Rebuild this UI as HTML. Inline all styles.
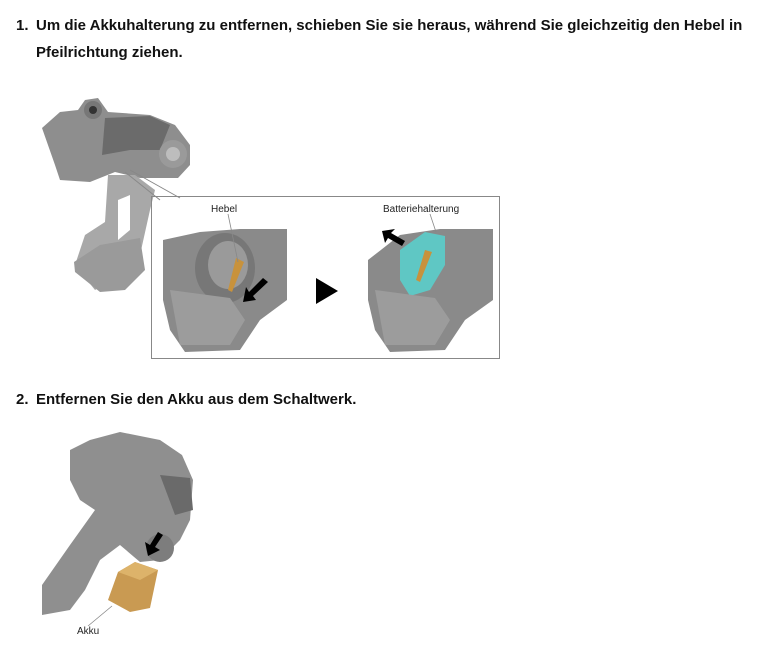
<!DOCTYPE html>
<html><head><meta charset="utf-8"><style>
html,body{margin:0;padding:0;background:#fff;width:764px;height:651px;overflow:hidden;position:relative;font-family:"Liberation Sans",Arial,sans-serif}
.t{position:absolute;font-weight:bold;font-size:15px;color:#111;line-height:27px}
.s{position:absolute;font-size:10px;color:#222}
svg{position:absolute;left:0;top:0}
</style></head><body>
<div class="t" style="left:16px;top:12px">1.</div>
<div class="t" style="left:36px;top:12px;width:728px">Um die Akkuhalterung zu entfernen, schieben Sie sie heraus, während Sie gleichzeitig den Hebel in<br>Pfeilrichtung ziehen.</div>
<div class="t" style="left:16px;top:386px">2.</div>
<div class="t" style="left:36px;top:386px">Entfernen Sie den Akku aus dem Schaltwerk.</div>
<div class="s" style="left:211px;top:204px">Hebel</div>
<div class="s" style="left:383px;top:204px">Batteriehalterung</div>
<div class="s" style="left:77px;top:626px">Akku</div>
<svg width="764" height="651" viewBox="0 0 764 651">
<path d="M42,128 L60,112 L78,110 L85,100 L98,98 L108,112 L150,115 L175,125 L190,145 L190,165 L178,178 L140,178 L115,172 L100,178 L90,182 L60,180 L55,165 Z" fill="#8e8e8e"/>
<path d="M105,118 L150,116 L170,125 L160,150 L130,150 L102,155 Z" fill="#6b6b6b"/>
<circle cx="93" cy="110" r="9" fill="#777"/><circle cx="93" cy="110" r="4" fill="#333"/>
<circle cx="173" cy="154" r="14" fill="#9a9a9a"/><circle cx="173" cy="154" r="7" fill="#bdbdbd"/>
<path d="M108,175 L135,175 L155,190 L150,210 L140,255 L120,275 L95,290 L75,265 L85,235 L105,222 Z" fill="#a8a8a8"/>
<path d="M118,200 L130,195 L130,230 L118,240 Z" fill="#fff"/>
<path d="M74,262 L100,245 L140,238 L145,270 L125,290 L100,292 L75,272 Z" fill="#9a9a9a"/>
<path d="M130,170 L180,198" stroke="#888" stroke-width="1" fill="none"/>
<path d="M125,172 L160,200" stroke="#888" stroke-width="1" fill="none"/>
<rect x="151.5" y="196.5" width="348" height="162" fill="none" stroke="#888" stroke-width="1"/>
<path d="M163,240 L200,232 L240,229 L287,229 L287,300 L260,320 L240,350 L185,352 L170,330 L163,300 Z" fill="#8a8a8a"/>
<ellipse cx="225" cy="268" rx="30" ry="35" fill="#777"/>
<ellipse cx="228" cy="265" rx="20" ry="24" fill="#9a9a9a"/>
<path d="M236,258 L244,262 L232,292 L228,290 Z" fill="#c8923c"/>
<path d="M170,290 L230,298 L245,320 L230,345 L180,345 Z" fill="#9c9c9c"/>
<path d="M243,302 L256,300 L253,296 L268,282 L263,278 L249,292 L246,287 Z" fill="#000"/>
<line x1="228" y1="214" x2="238" y2="262" stroke="#888" stroke-width="0.8"/>
<path d="M316,278 L338,291 L316,304 Z" fill="#000"/>
<path d="M368,260 L400,235 L440,229 L493,229 L493,300 L465,320 L445,350 L390,352 L375,330 L368,300 Z" fill="#8a8a8a"/>
<path d="M400,250 L425,232 L445,236 L445,265 L430,290 L410,296 L400,280 Z" fill="#5fc7c4"/>
<path d="M425,250 L432,252 L420,282 L416,280 Z" fill="#c8923c"/>
<path d="M375,290 L435,298 L450,320 L435,345 L385,345 Z" fill="#9c9c9c"/>
<path d="M382,231 L385,243 L388,238 L402,246 L405,241 L391,233 L395,229 Z" fill="#000"/>
<line x1="430" y1="214" x2="436" y2="232" stroke="#888" stroke-width="0.8"/>
<path d="M70,450 L90,440 L120,432 L160,440 L182,455 L193,480 L190,520 L180,540 L160,560 L140,562 L120,545 L100,560 L85,590 L70,610 L42,615 L42,585 L70,545 L95,510 L80,500 L70,480 Z" fill="#8f8f8f"/>
<path d="M160,475 L190,478 L193,510 L175,515 Z" fill="#6a6a6a"/>
<circle cx="160" cy="548" r="14" fill="#7d7d7d"/>
<path d="M158,532 L150,545 L145,542 L148,556 L160,550 L155,547 L163,535 Z" fill="#000"/>
<path d="M118,572 L135,562 L158,570 L150,608 L130,612 L108,600 Z" fill="#c99a52"/>
<path d="M118,572 L135,562 L158,570 L140,580 Z" fill="#ddb36a"/>
<line x1="88" y1="626" x2="112" y2="606" stroke="#888" stroke-width="0.8"/>
</svg>
</body></html>
